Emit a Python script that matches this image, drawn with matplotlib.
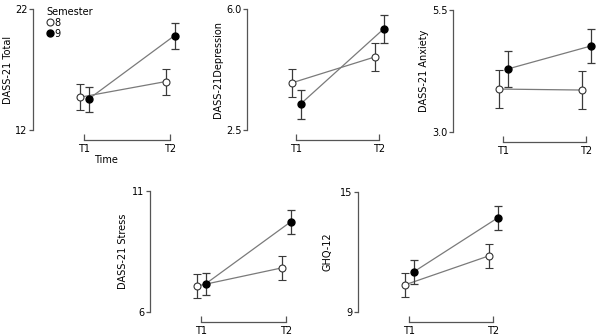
import numpy as np
import matplotlib.pyplot as plt
from matplotlib.lines import Line2D

plt.rcParams['font.family'] = ['DejaVu Sans']
plt.rcParams['font.size'] = 7

W, H = 602, 335

times = ['T1', 'T2']
semesters = ['8', '9']

# means and error half-widths
total_8 = [14.7, 16.0]
total_9 = [14.55, 19.8]
total_8_err = [1.07, 1.07]
total_9_err = [1.03, 1.07]

dep_8 = [3.86, 4.61]
dep_9 = [3.25, 5.42]
dep_8_err = [0.40, 0.40]
dep_9_err = [0.42, 0.40]

anx_8 = [3.88, 3.86]
anx_9 = [4.29, 4.76]
anx_8_err = [0.39, 0.39]
anx_9_err = [0.37, 0.35]

stress_8 = [7.07, 7.82]
stress_9 = [7.16, 9.72]
stress_8_err = [0.50, 0.48]
stress_9_err = [0.45, 0.48]

ghq_8 = [10.35, 11.8]
ghq_9 = [11.0, 13.7]
ghq_8_err = [0.60, 0.60]
ghq_9_err = [0.62, 0.60]

panels = [
    # label, ylim, ticklabels, s8, e8, s9, e9, spine x, T1 px, T2 px, top px, bottom px, label offset
    ('DASS-21 Total', (12, 22), ['12', '22'], total_8, total_8_err, total_9, total_9_err, 33, 84, 170, 9, 130, 20),
    ('DASS-21Depression', (2.5, 6.0), ['2.5', '6.0'], dep_8, dep_8_err, dep_9, dep_9_err, 247, 296, 379, 9, 130, 24),
    ('DASS-21 Anxiety', (3.0, 5.5), ['3.0', '5.5'], anx_8, anx_8_err, anx_9, anx_9_err, 453, 503, 586, 10, 132, 24),
    ('DASS-21 Stress', (6, 11), ['6', '11'], stress_8, stress_8_err, stress_9, stress_9_err, 150, 201, 286, 191, 312, 22),
    ('GHQ-12', (9, 15), ['9', '15'], ghq_8, ghq_8_err, ghq_9, ghq_9_err, 358, 409, 493, 192, 312, 25),
]

fig = plt.figure(figsize=(W / 100, H / 100), dpi=100)

line_c = '#7a7a7a'
err_c = '#3a3a3a'
spine_c = '#555555'
dodge_px = 4.5

axes = []
for (lab, ylim, yt, s8, e8, s9, e9, sx, t1, t2, top, bot, loff) in panels:
    right = t2 + 8
    ax = fig.add_axes([sx / W, 1 - bot / H, (right - sx) / W, (bot - top) / H])
    ax.patch.set_alpha(0)
    unit = t2 - t1
    ax.set_xlim((sx - t1) / unit, (right - t1) / unit)
    ax.set_ylim(*ylim)
    d = dodge_px / unit
    x = np.arange(len(times))
    ax.plot(x - d, s8, color=line_c, lw=0.9, zorder=1, clip_on=False)
    ax.plot(x + d, s9, color=line_c, lw=0.9, zorder=1, clip_on=False)
    ax.errorbar(x - d, s8, yerr=e8, fmt='o', ms=5, mfc='white', mec='#333333',
                mew=0.8, ecolor=err_c, elinewidth=0.9, capsize=3, capthick=0.9,
                zorder=3, clip_on=False)
    ax.errorbar(x + d, s9, yerr=e9, fmt='o', ms=5, mfc='black', mec='black',
                ecolor=err_c, elinewidth=0.9, capsize=3, capthick=0.9,
                zorder=3, clip_on=False)
    for side in ['top', 'right']:
        ax.spines[side].set_visible(False)
    ax.spines['left'].set_color(spine_c)
    ax.spines['left'].set_linewidth(0.9)
    ax.spines['bottom'].set_color(spine_c)
    ax.spines['bottom'].set_linewidth(0.9)
    ax.spines['bottom'].set_position(('outward', 7))
    ax.spines['bottom'].set_bounds(0, 1)
    ax.set_yticks(list(ylim))
    ax.set_yticklabels(yt)
    ax.set_xticks(x)
    ax.set_xticklabels(times)
    ax.tick_params(axis='y', direction='out', length=3, width=0.9, color=spine_c, pad=1)
    ax.tick_params(axis='x', direction='in', length=4, width=0.9, color=spine_c, pad=3)
    ax.set_ylabel(lab)
    ax.yaxis.set_label_coords(-loff / (right - sx), 0.5)
    axes.append(ax)

axes[0].set_xlabel('Time', labelpad=1)

handles = [
    Line2D([], [], marker='o', ls='none', ms=5, mfc='white', mec='#333333', mew=0.8),
    Line2D([], [], marker='o', ls='none', ms=5, mfc='black', mec='black'),
]
leg = fig.legend(handles, semesters, title='Semester', loc='upper left',
                 bbox_to_anchor=(42 / W, 1 - 2 / H), frameon=False,
                 handlelength=0.6, handletextpad=0.2, labelspacing=0.1,
                 borderpad=0, title_fontsize=7, fontsize=7)
leg._legend_box.align = 'left'

fig.savefig('out.png', dpi=100)
